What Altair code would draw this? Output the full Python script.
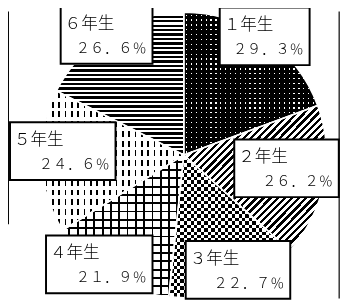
import math
import altair as alt
import pandas as pd

# ---- data ----
grades = ["１年生", "２年生", "３年生", "４年生", "５年生", "６年生"]
values = [29.3, 26.2, 22.7, 21.9, 24.6, 26.6]
pct_text = ["２９．３％", "２６．２％", "２２．７％", "２１．９％", "２４．６％", "２６．６％"]

# ---- layout / style ----
W, H = 346, 294
CX, CY, R = 180, 147, 146
label_r = [147, 106, 130, 141.5, 124, 146.2]
label_nudge = [-0.6, -3.5, -4.3, 5.6, 4.4, -1.1]
box_w = [92, 107, 107, 109, 108, 94]
box_h = 59
FONT = "Noto Sans CJK JP"

total = sum(values)
starts, ends = [], []
acc = 0.0
for v in values:
    starts.append(acc / total * 360)
    acc += v
    ends.append(acc / total * 360)


def sector_bbox(a0, a1, r):
    pts = [(0.0, 0.0)]
    for a in [a0, a1] + [a for a in (0, 90, 180, 270, 360) if a0 < a < a1]:
        t = math.radians(a)
        pts.append((r * math.sin(t), -r * math.cos(t)))
    xs = [p[0] for p in pts]
    ys = [p[1] for p in pts]
    return max(xs) - min(xs), max(ys) - min(ys)


bbox = {g: sector_bbox(a0, a1, R) for g, a0, a1 in zip(grades, starts, ends)}

CLEAR = "rgba(0,0,0,0)"


def stripe_stops(period, on_frac, on_color, off_color=CLEAR):
    stops = []
    pos = -period * 0.3
    while pos < 1:
        for s, e, c in ((pos, pos + on_frac * period, on_color),
                        (pos + on_frac * period, pos + period, off_color)):
            s2, e2 = max(0.0, s), min(1.0, e)
            if e2 > s2:
                stops.append({"offset": round(s2, 5), "color": c})
                stops.append({"offset": round(e2, 5), "color": c})
        pos += period
    return stops


def horiz(g, pitch, frac, color="black"):
    w, h = bbox[g]
    return {"gradient": "linear", "x1": 0, "y1": 0, "x2": 0, "y2": 1,
            "stops": stripe_stops(pitch / h, frac, color)}


def vert(g, pitch, frac, color="black"):
    w, h = bbox[g]
    return {"gradient": "linear", "x1": 0, "y1": 0, "x2": 1, "y2": 0,
            "stops": stripe_stops(pitch / w, frac, color)}


def diag(g, pitch, frac, color="black"):
    w, h = bbox[g]
    grad_t = 0.5 * math.sqrt(1 / w ** 2 + 1 / h ** 2)
    return {"gradient": "linear", "x1": 0, "y1": 0, "x2": 1, "y2": 1,
            "stops": stripe_stops(pitch * grad_t, frac, color)}


df = pd.DataFrame({"grade": grades, "value": values})
base = alt.Chart(df)


def pie_layer(grad_map, blend=None):
    cond = [{"test": f"datum.grade === '{g}'", "value": gr} for g, gr in grad_map.items()]
    kw = {"radius": R}
    if blend:
        kw["blend"] = blend
    return base.mark_arc(**kw).encode(
        theta=alt.Theta("value:Q", stack=True),
        order=alt.Order("grade:O", sort="ascending"),
        x=alt.value(CX), y=alt.value(CY),
        fill={"condition": cond, "value": CLEAR},
    )


g1, g2, g3, g4, g5, g6 = grades

base_layer = base.mark_arc(radius=R, fill="white").encode(
    theta=alt.Theta("value:Q", stack=True),
    order=alt.Order("grade:O", sort="ascending"),
    x=alt.value(CX), y=alt.value(CY),
)

layer_h = pie_layer({
    g1: horiz(g1, 5.0, 0.74),
    g3: horiz(g3, 7.0, 0.5),
    g4: horiz(g4, 8.5, 0.22),
    g6: horiz(g6, 4.6, 0.55),
})
layer_v = pie_layer({
    g1: vert(g1, 5.0, 0.74),
    g4: vert(g4, 8.5, 0.22),
    g5: vert(g5, 6.5, 0.27),
})
layer_d = pie_layer({g2: diag(g2, 5.2, 0.47)})
layer_w = pie_layer({g5: horiz(g5, 10.0, 0.4, "white")})
layer_x = pie_layer({g3: vert(g3, 7.0, 0.5, "white")}, blend="difference")

outline = base.mark_arc(radius=R, fillOpacity=0, stroke="white", strokeWidth=1.5).encode(
    theta=alt.Theta("value:Q", stack=True),
    order=alt.Order("grade:O", sort="ascending"),
    x=alt.value(CX), y=alt.value(CY),
)

# ---- label boxes (placed around each slice's middle angle) ----
rows = []
for g, p, a0, a1, r, nd, bw in zip(grades, pct_text, starts, ends, label_r, label_nudge, box_w):
    m = math.radians((a0 + a1) / 2 + nd)
    cx = CX + r * math.sin(m)
    cy = CY - r * math.cos(m)
    left, top = cx - bw / 2, cy - box_h / 2
    rows.append({"grade": g, "pct": p, "bx": left, "bx2": left + bw,
                 "by": top, "by2": top + box_h,
                 "t1x": left + 4, "t1y": top + 23,
                 "t2x": left + bw - 6, "t2y": top + 48})
lab = alt.Chart(pd.DataFrame(rows))

boxes = lab.mark_rect(fill="white", stroke="black", strokeWidth=2).encode(
    x=alt.X("bx:Q", scale=None), x2="bx2:Q",
    y=alt.Y("by:Q", scale=None), y2="by2:Q",
)
text1 = lab.mark_text(align="left", baseline="alphabetic", font=FONT, fontSize=17,
                      fontWeight=300, color="black").encode(
    x=alt.X("t1x:Q", scale=None), y=alt.Y("t1y:Q", scale=None), text="grade:N")
text2 = lab.mark_text(align="right", baseline="alphabetic", font=FONT, fontSize=14.5,
                      fontWeight=300, color="black").encode(
    x=alt.X("t2x:Q", scale=None), y=alt.Y("t2y:Q", scale=None), text="pct:N")

one = alt.Chart(pd.DataFrame({"a": [0]}))
rule_left = one.mark_rule(color="black", strokeWidth=2).encode(
    x=alt.value(0), y=alt.value(0), y2=alt.value(218))
rule_right = one.mark_rule(color="black", strokeWidth=1.2).encode(
    x=alt.value(339), y=alt.value(0), y2=alt.value(H))

chart = alt.layer(
    base_layer, layer_h, layer_v, layer_d, layer_w, layer_x, outline,
    rule_left, rule_right, boxes, text1, text2,
).properties(
    width=W, height=H, padding=0, background="white",
    autosize=alt.AutoSizeParams(type="none"),
).configure_view(strokeWidth=0)

chart.save("out.html", embed_options={"renderer": "svg", "actions": False})
